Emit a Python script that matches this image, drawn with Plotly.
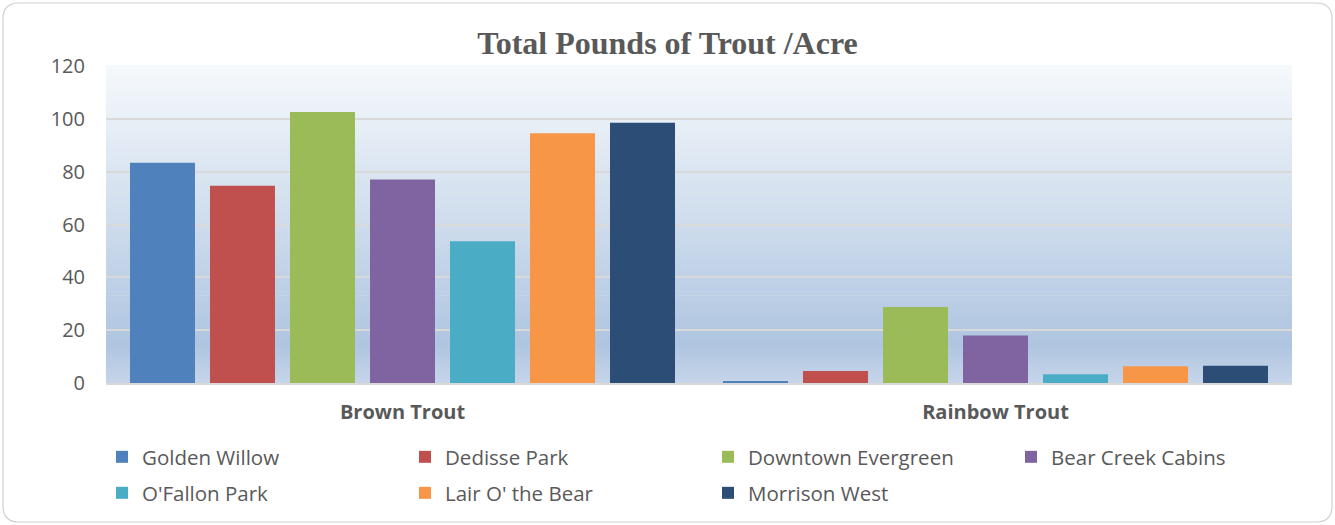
import plotly.graph_objects as go

categories = ["Brown Trout", "Rainbow Trout"]
sites = ["Golden Willow", "Dedisse Park", "Downtown Evergreen", "Bear Creek Cabins",
         "O'Fallon Park", "Lair O' the Bear", "Morrison West"]
colors = ["#4f81bd", "#c0504d", "#9bbb59", "#8064a2", "#4bacc6", "#f79646", "#2c4d75"]
values = {
    "Golden Willow": [83.4, 0.7],
    "Dedisse Park": [74.7, 4.5],
    "Downtown Evergreen": [102.6, 28.8],
    "Bear Creek Cabins": [77.0, 18.0],
    "O'Fallon Park": [53.7, 3.3],
    "Lair O' the Bear": [94.5, 6.3],
    "Morrison West": [98.5, 6.5],
}
y_ticks = [0, 20, 40, 60, 80, 100, 120]

fig = go.Figure()
for i, (s, c) in enumerate(zip(sites, colors)):
    fig.add_trace(go.Bar(x=categories, y=values[s], name=s, marker_color=c,
                         marker_line_width=0,
                         legend="legend" if i < 4 else "legend2"))

# gradient background for plot area
shapes = []
n = 80
def lerp(a, b, t):
    return tuple(int(round(a[i] + (b[i] - a[i]) * t)) for i in range(3))
top = (246, 249, 252)
mid = (175, 197, 224)
bot = (198, 213, 234)
for i in range(n):
    t0 = i / n
    t1 = (i + 1) / n
    tc = (t0 + t1) / 2  # 0 at bottom, 1 at top
    if tc < 0.12:
        col = lerp(bot, mid, tc / 0.12)
    else:
        col = lerp(mid, top, (tc - 0.12) / 0.88)
    shapes.append(dict(type="rect", xref="x domain", yref="y domain",
                       x0=0, x1=1, y0=t0, y1=t1 + 0.002, layer="below",
                       fillcolor="rgb(%d,%d,%d)" % col, line_width=0))

# outer rounded border
W, H = 1335, 525
ml, mr, mt, mb = 106, 43, 66, 142
pw, ph = W - ml - mr, H - mt - mb
def px(xp):
    return (xp - ml) / pw
def py(yp):
    return (H - mb - yp) / ph
r = 16
x0, x1, y0, y1 = 3, 1332, 3, 522
path = (f"M {px(x0 + r)},{py(y0)} L {px(x1 - r)},{py(y0)} "
        f"Q {px(x1)},{py(y0)} {px(x1)},{py(y0 + r)} "
        f"L {px(x1)},{py(y1 - r)} Q {px(x1)},{py(y1)} {px(x1 - r)},{py(y1)} "
        f"L {px(x0 + r)},{py(y1)} Q {px(x0)},{py(y1)} {px(x0)},{py(y1 - r)} "
        f"L {px(x0)},{py(y0 + r)} Q {px(x0)},{py(y0)} {px(x0 + r)},{py(y0)} Z")
shapes.append(dict(type="path", xref="paper", yref="paper", path=path,
                   line=dict(color="#d0d0d0", width=1.2), layer="below"))

leg_common = dict(orientation="h", x=px(102), xanchor="left", yanchor="middle",
                  entrywidth=258, entrywidthmode="pixels", itemwidth=30,
                  font=dict(family="Open Sans", size=20.5, color="#595959"),
                  itemclick=False, tracegroupgap=0, traceorder="normal",
                  bgcolor="rgba(0,0,0,0)")

fig.update_layout(
    width=W, height=H,
    margin=dict(l=ml, r=mr, t=mt, b=mb, autoexpand=False),
    paper_bgcolor="white", plot_bgcolor="rgba(0,0,0,0)",
    barmode="group", bargap=0.0556, bargroupgap=0.1875,
    title=dict(text="<b>Total Pounds of Trout /Acre</b>", x=0.5, xanchor="center",
               y=1 - 43 / H, yanchor="middle",
               font=dict(family="Liberation Serif", size=32, color="#595959")),
    shapes=shapes,
    showlegend=True,
    legend=dict(y=py(457), **leg_common),
    legend2=dict(y=py(493), **leg_common),
    font=dict(family="Open Sans", color="#595959"),
)
fig.update_xaxes(showgrid=False, showline=True, linecolor="#d9d9d9", linewidth=2,
                 ticks="", tickfont=dict(family="Open Sans", size=20, color="#595959"),
                 tickvals=categories, ticktext=["<b>%s</b>" % c for c in categories],
                 ticklabelstandoff=10)
fig.update_yaxes(range=[0, 120], tickvals=y_ticks, showgrid=True, gridcolor="#d9d9d9",
                 gridwidth=1.5, zeroline=False, showline=False, ticks="",
                 tickfont=dict(family="Open Sans", size=20, color="#595959"),
                 ticklabelstandoff=20)

fig.write_html("out.html", config={"displayModeBar": False},
               post_script="document.body.style.margin='0';")
